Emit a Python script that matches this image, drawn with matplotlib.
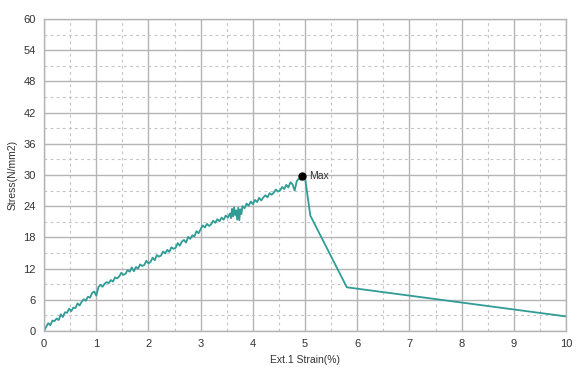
import matplotlib
matplotlib.use("Agg")
import matplotlib.pyplot as plt
from matplotlib.ticker import MultipleLocator

# Tensile test record: strain (%) vs stress (N/mm2)
strain = [0.00, 0.04, 0.08, 0.12, 0.16, 0.20, 0.24, 0.28, 0.32, 0.36,
          0.40, 0.44, 0.48, 0.52, 0.56, 0.60, 0.64, 0.68, 0.72, 0.76,
          0.80, 0.84, 0.88, 0.92, 0.96, 1.00, 1.04, 1.08, 1.12, 1.16,
          1.20, 1.24, 1.28, 1.32, 1.36, 1.40, 1.44, 1.48, 1.52, 1.56,
          1.60, 1.64, 1.68, 1.72, 1.76, 1.80, 1.84, 1.88, 1.92, 1.96,
          2.00, 2.04, 2.08, 2.12, 2.16, 2.20, 2.24, 2.28, 2.32, 2.36,
          2.40, 2.44, 2.48, 2.52, 2.56, 2.60, 2.64, 2.68, 2.72, 2.76,
          2.80, 2.84, 2.88, 2.92, 2.96, 3.00, 3.04, 3.08, 3.12, 3.16,
          3.20, 3.24, 3.28, 3.32, 3.36, 3.40, 3.44, 3.48, 3.52, 3.56,
          3.58, 3.60, 3.62, 3.64, 3.66, 3.68, 3.70, 3.72, 3.74, 3.76,
          3.78, 3.80, 3.84, 3.88, 3.92, 3.96, 4.00, 4.04, 4.08, 4.12,
          4.16, 4.20, 4.24, 4.28, 4.32, 4.36, 4.40, 4.44, 4.48, 4.52,
          4.56, 4.60, 4.64, 4.68, 4.72, 4.76, 4.80, 4.84, 4.88, 4.92,
          4.95, 5.00, 5.10, 5.80, 10.00]
stress = [0.0, 0.8, 1.5, 1.1, 2.0, 1.9, 2.4, 2.1, 3.2, 2.7,
          3.6, 3.5, 4.3, 3.8, 4.5, 4.4, 5.3, 4.9, 5.6, 6.1,
          5.8, 6.6, 6.4, 7.3, 7.6, 6.8, 8.4, 8.9, 8.5, 9.1,
          9.4, 9.2, 9.8, 9.5, 10.3, 10.1, 10.5, 11.2, 10.8, 11.0,
          11.7, 11.4, 12.2, 11.5, 12.3, 12.0, 12.8, 12.5, 12.7, 13.5,
          13.0, 13.3, 14.1, 13.6, 14.6, 14.3, 14.5, 15.3, 14.9, 15.6,
          15.2, 16.1, 15.8, 16.0, 16.9, 16.4, 17.2, 17.5, 17.0, 18.1,
          17.7, 18.4, 18.2, 19.2, 18.8, 19.6, 20.3, 19.9, 20.6, 20.2,
          20.5, 21.2, 20.8, 21.5, 21.1, 21.8, 21.4, 22.2, 21.8, 22.6,
          21.7, 23.5, 22.0, 23.8, 22.3, 23.2, 21.4, 23.7, 21.3, 23.4,
          22.5, 24.0, 23.6, 24.5, 24.1, 24.9, 24.4, 25.2, 24.8, 25.6,
          25.1, 25.7, 26.1, 25.7, 26.5, 26.2, 26.6, 27.2, 26.8, 27.0,
          27.7, 27.3, 28.1, 27.6, 28.6, 28.2, 27.0, 28.8, 29.3, 29.1,
          29.9, 29.4, 22.2, 8.4, 2.8]

max_strain = 4.95
max_stress = 29.9

x_ticks = [0, 1, 2, 3, 4, 5, 6, 7, 8, 9, 10]
y_ticks = [0, 6, 12, 18, 24, 30, 36, 42, 48, 54, 60]

plt.rcParams['font.family'] = ['Liberation Sans Narrow', 'Liberation Sans', 'DejaVu Sans']

fig = plt.figure(figsize=(5.8, 3.8), dpi=100)
ax = fig.add_axes([0.076, 0.129, 0.900, 0.821])

ax.set_xlim(0, 10)
ax.set_ylim(0, 60)
ax.set_xticks(x_ticks)
ax.set_yticks(y_ticks)
ax.xaxis.set_minor_locator(MultipleLocator(0.5))
ax.yaxis.set_minor_locator(MultipleLocator(3))

ax.grid(which='major', color='#b4b4b4', linewidth=1.0, linestyle='-')
ax.grid(which='minor', color='#c4c4c4', linewidth=0.8, linestyle=(0, (2.5, 3)))
ax.set_axisbelow(True)

for s in ax.spines.values():
    s.set_color('#b4b4b4')
    s.set_linewidth(1.0)

ax.tick_params(which='both', length=0, labelsize=8, colors='#333333', pad=6)

ax.plot(strain, stress, color='#2f9c95', linewidth=1.3)
ax.plot([max_strain], [max_stress], 'o', color='black', markersize=5, zorder=5)
ax.text(max_strain + 0.12, max_stress, 'Max', fontsize=7.5, color='#333333',
        va='center', ha='left')

ax.set_xlabel('Ext.1 Strain(%)', fontsize=7.5, color='#333333', labelpad=4)
ax.set_ylabel('Stress(N/mm2)', fontsize=7.5, color='#333333', labelpad=4)

fig.savefig('out.png', dpi=100)
